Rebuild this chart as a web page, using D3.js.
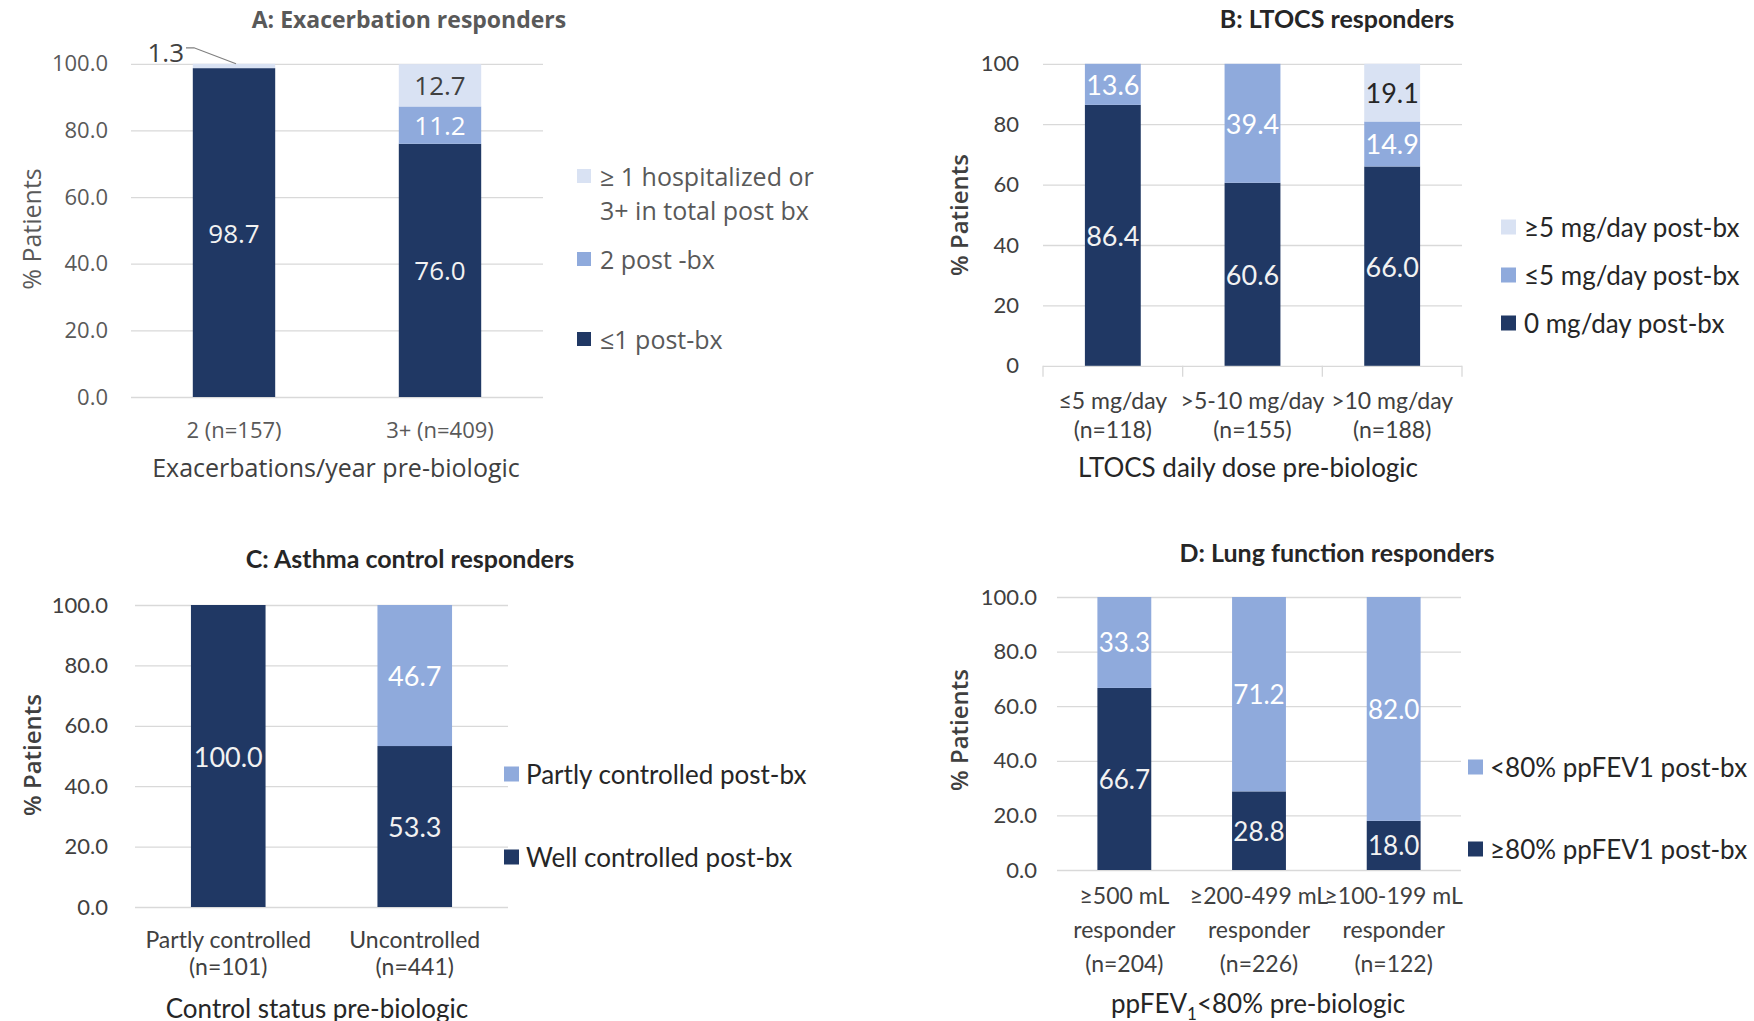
<!DOCTYPE html>
<html>
<head>
<meta charset="utf-8">
<script src="https://cdn.jsdelivr.net/npm/d3@7"></script>
<style>
  html, body { margin: 0; padding: 0; background: #ffffff; }
  svg { display: block; }
</style>
</head>
<body>
<svg id="chart" width="1754" height="1021"></svg>
<script>
// ---- Shared axis ticks ----
const pctTickValues = [0, 20, 40, 60, 80, 100];
const decimalTickLabels = ["0.0", "20.0", "40.0", "60.0", "80.0", "100.0"];
const integerTickLabels = ["0", "20", "40", "60", "80", "100"];

// ---- A: Exacerbation responders ----
const exacCategories = ["2 (n=157)", "3+ (n=409)"];
const exacSeriesNames = ["≤1 post-bx", "2 post -bx", "≥ 1 hospitalized or\n3+ in total post bx"];
const exacLeOne = [98.7, 76.0];
const exacTwo = [0, 11.2];
const exacHosp = [1.3, 12.7];

// ---- B: LTOCS responders ----
const ltocsCategories = ["≤5 mg/day\n(n=118)", ">5-10 mg/day\n(n=155)", ">10 mg/day\n(n=188)"];
const ltocsSeriesNames = ["0 mg/day post-bx", "≤5 mg/day post-bx", "≥5 mg/day post-bx"];
const ltocsZero = [86.4, 60.6, 66.0];
const ltocsLe5 = [13.6, 39.4, 14.9];
const ltocsGe5 = [0, 0, 19.1];

// ---- C: Asthma control responders ----
const controlCategories = ["Partly controlled\n(n=101)", "Uncontrolled\n(n=441)"];
const controlSeriesNames = ["Well controlled post-bx", "Partly controlled post-bx"];
const controlWell = [100.0, 53.3];
const controlPartly = [0, 46.7];

// ---- D: Lung function responders ----
const lungCategories = ["≥500 mL\nresponder\n(n=204)", "≥200-499 mL\nresponder\n(n=226)", "≥100-199 mL\nresponder\n(n=122)"];
const lungSeriesNames = ["≥80% ppFEV1 post-bx", "<80% ppFEV1 post-bx"];
const lungAbove = [66.7, 28.8, 18.0];
const lungBelow = [33.3, 71.2, 82.0];

// ---- Palette ----
const DARK = "#203864", MEDIUM = "#8faadc", LIGHT = "#d9e2f3";
const SEGOE = "'Open Sans', 'Noto Sans', sans-serif";
const CALI = "Lato, 'Open Sans', sans-serif";

const svg = d3.select("#chart");
svg.append("rect").attr("width", 1754).attr("height", 1021).attr("fill", "#ffffff");

function addLines(textSel, str, lineHeight) {
  const lines = str.split("\n");
  textSel.text(null);
  lines.forEach((ln, i) => {
    textSel.append("tspan")
      .attr("x", textSel.attr("x") || 0)
      .attr("dy", i === 0 ? 0 : lineHeight)
      .text(ln);
  });
}

function drawPanel(p) {
  const g = svg.append("g");
  const x = d3.scaleBand().domain(p.categories).range([p.left, p.right])
    .paddingInner(0.6).paddingOuter(0.3);
  const y = d3.scaleLinear().domain([0, 100]).range([p.bottom, p.top]);

  // gridlines and value ticks
  const ya = g.append("g").attr("transform", `translate(${p.left},0)`)
    .call(d3.axisLeft(y).tickValues(pctTickValues)
      .tickFormat((d, i) => p.tickLabels[i])
      .tickSize(-(p.right - p.left)).tickPadding(p.tickPad));
  ya.select(".domain").remove();
  ya.selectAll("line").attr("stroke", "#d9d9d9").attr("stroke-width", 1.3);
  ya.selectAll("text").attr("fill", p.tickColor)
    .style("font-family", p.font).style("font-size", p.tickFont + "px");

  // category boundary ticks
  if (p.boundaryTicks) {
    const bounds = p.categories.map(c => x(c) - x.step() * x.paddingOuter());
    bounds.push(p.right);
    g.selectAll(null).data(bounds).join("line")
      .attr("x1", d => d).attr("x2", d => d)
      .attr("y1", p.bottom).attr("y2", p.bottom + 11)
      .attr("stroke", "#d9d9d9").attr("stroke-width", 1.3);
  }

  // stacked segments
  const rows = p.categories.map((c, i) => {
    const r = { cat: c };
    p.series.forEach((s, k) => { r[k] = s.values[i]; });
    return r;
  });
  const layers = d3.stack().keys(p.series.map((s, k) => k))(rows);

  layers.forEach((layer, k) => {
    const s = p.series[k];
    const segs = layer.filter(d => d[1] - d[0] > 0);
    g.selectAll(null).data(segs).join("rect")
      .attr("x", d => x(d.data.cat)).attr("width", x.bandwidth())
      .attr("y", d => y(d[1])).attr("height", d => y(d[0]) - y(d[1]))
      .attr("fill", s.color);
  });

  layers.forEach((layer, k) => {
    const s = p.series[k];
    layer.forEach((d, i) => {
      const v = d[1] - d[0];
      if (v <= 0) return;
      const cx = x(d.data.cat) + x.bandwidth() / 2;
      if (p.callout && p.callout.series === k && p.callout.category === i) {
        const yt = y(d[1]);
        g.append("polyline")
          .attr("points", [[cx - 48, yt - 16], [cx - 40, yt - 16], [cx + 2, yt]].map(q => q.join(",")).join(" "))
          .attr("fill", "none").attr("stroke", "#7f7f7f").attr("stroke-width", 1.2);
        g.append("text").attr("x", cx - 50).attr("y", yt - 12)
          .attr("text-anchor", "end").attr("dominant-baseline", "central")
          .attr("fill", "#404040").style("font-family", p.font)
          .style("font-size", p.labelFont + "px").text(v.toFixed(1));
        return;
      }
      g.append("text").attr("x", cx).attr("y", y((d[0] + d[1]) / 2))
        .attr("text-anchor", "middle").attr("dominant-baseline", "central")
        .attr("fill", s.labelColor).style("font-family", p.font)
        .style("font-size", p.labelFont + "px").text(v.toFixed(1));
    });
  });

  // category axis
  const xa = g.append("g").attr("transform", `translate(0,${p.bottom})`)
    .call(d3.axisBottom(x).tickSize(0).tickPadding(0));
  xa.select(".domain").remove();
  xa.selectAll("text")
    .attr("y", p.catOffset).attr("dy", null).attr("x", 0)
    .attr("fill", p.catColor)
    .style("font-family", p.font).style("font-size", p.catFont + "px")
    .each(function (d) { addLines(d3.select(this), d, p.catLine); });

  // axis titles
  const xt = g.append("text").attr("x", p.xTitleX).attr("y", p.xTitleY)
    .attr("text-anchor", "middle").attr("fill", p.xTitleColor)
    .style("font-family", p.font).style("font-size", p.xTitleFont + "px");
  p.xTitleParts.forEach(part => {
    const t = xt.append("tspan").text(part.t);
    if (part.sub) t.attr("dy", 7).style("font-size", Math.round(p.xTitleFont * 0.65) + "px");
    if (part.after) t.attr("dy", -7);
  });

  g.append("text")
    .attr("transform", `translate(${p.yTitleX},${p.yTitleY}) rotate(-90)`)
    .attr("text-anchor", "middle").attr("dominant-baseline", "central")
    .attr("fill", p.yTitleColor)
    .style("font-family", SEGOE).style("font-weight", p.yTitleWeight)
    .style("font-size", p.yTitleFont + "px").text("% Patients");

  // panel title
  g.append("text").attr("x", p.titleX).attr("y", p.titleY)
    .attr("text-anchor", "middle").attr("fill", p.titleColor)
    .style("font-family", p.font).style("font-weight", 700)
    .style("font-size", p.titleFont + "px").text(p.title);

  // legend
  p.legend.rows.forEach(r => {
    const s = p.series[r.series];
    g.append("rect")
      .attr("x", p.legend.squareX).attr("y", r.y - p.legend.size / 2)
      .attr("width", p.legend.size).attr("height", p.legend.size)
      .attr("fill", s.color);
    const t = g.append("text").attr("x", p.legend.textX).attr("y", r.y)
      .attr("dominant-baseline", "central").attr("fill", p.legend.color)
      .style("font-family", p.font).style("font-size", p.legend.font + "px");
    addLines(t, s.name, p.legend.lineHeight || 0);
  });
}

// A
drawPanel({
  categories: exacCategories,
  series: [
    { name: exacSeriesNames[0], values: exacLeOne, color: DARK, labelColor: "#f2f2f2" },
    { name: exacSeriesNames[1], values: exacTwo, color: MEDIUM, labelColor: "#ffffff" },
    { name: exacSeriesNames[2], values: exacHosp, color: LIGHT, labelColor: "#404040" }
  ],
  callout: { series: 2, category: 0 },
  left: 131, right: 543, top: 63.8, bottom: 397,
  font: SEGOE, tickLabels: decimalTickLabels, tickFont: 22, tickColor: "#595959", tickPad: 23,
  labelFont: 26,
  catOffset: 41, catLine: 28, catFont: 22, catColor: "#595959",
  xTitleParts: [{ t: "Exacerbations/year pre-biologic" }], xTitleX: 336, xTitleY: 477, xTitleFont: 25, xTitleColor: "#404040",
  yTitleX: 31, yTitleY: 229, yTitleFont: 25, yTitleWeight: 400, yTitleColor: "#595959",
  title: "A: Exacerbation responders", titleX: 409, titleY: 28, titleFont: 23, titleColor: "#595959",
  legend: { squareX: 577, textX: 600, size: 14, font: 25, color: "#595959", lineHeight: 34,
    rows: [{ series: 2, y: 176 }, { series: 1, y: 259 }, { series: 0, y: 339 }] }
});

// B
drawPanel({
  categories: ltocsCategories,
  series: [
    { name: ltocsSeriesNames[0], values: ltocsZero, color: DARK, labelColor: "#f2f2f2" },
    { name: ltocsSeriesNames[1], values: ltocsLe5, color: MEDIUM, labelColor: "#ffffff" },
    { name: ltocsSeriesNames[2], values: ltocsGe5, color: LIGHT, labelColor: "#262626" }
  ],
  boundaryTicks: true,
  left: 1043, right: 1462, top: 63.8, bottom: 365.8,
  font: CALI, tickLabels: integerTickLabels, tickFont: 22, tickColor: "#404040", tickPad: 24,
  labelFont: 27,
  catOffset: 43, catLine: 29, catFont: 23, catColor: "#404040",
  xTitleParts: [{ t: "LTOCS daily dose pre-biologic" }], xTitleX: 1248, xTitleY: 477, xTitleFont: 26, xTitleColor: "#262626",
  yTitleX: 958, yTitleY: 215, yTitleFont: 24, yTitleWeight: 600, yTitleColor: "#404040",
  title: "B: LTOCS responders", titleX: 1337, titleY: 28, titleFont: 25, titleColor: "#262626",
  legend: { squareX: 1501, textX: 1524, size: 15, font: 26, color: "#262626",
    rows: [{ series: 2, y: 227 }, { series: 1, y: 275 }, { series: 0, y: 323 }] }
});

// C
drawPanel({
  categories: controlCategories,
  series: [
    { name: controlSeriesNames[0], values: controlWell, color: DARK, labelColor: "#f2f2f2" },
    { name: controlSeriesNames[1], values: controlPartly, color: MEDIUM, labelColor: "#ffffff" }
  ],
  left: 135, right: 508, top: 605, bottom: 907,
  font: CALI, tickLabels: decimalTickLabels, tickFont: 22, tickColor: "#404040", tickPad: 27,
  labelFont: 27,
  catOffset: 41, catLine: 27, catFont: 23, catColor: "#404040",
  xTitleParts: [{ t: "Control status pre-biologic" }], xTitleX: 317, xTitleY: 1018, xTitleFont: 26, xTitleColor: "#262626",
  yTitleX: 31, yTitleY: 755, yTitleFont: 24, yTitleWeight: 600, yTitleColor: "#404040",
  title: "C: Asthma control responders", titleX: 410, titleY: 568, titleFont: 25, titleColor: "#262626",
  legend: { squareX: 504, textX: 526, size: 15, font: 26, color: "#262626",
    rows: [{ series: 1, y: 774 }, { series: 0, y: 857 }] }
});

// D
drawPanel({
  categories: lungCategories,
  series: [
    { name: lungSeriesNames[0], values: lungAbove, color: DARK, labelColor: "#f2f2f2" },
    { name: lungSeriesNames[1], values: lungBelow, color: MEDIUM, labelColor: "#ffffff" }
  ],
  left: 1057, right: 1461, top: 597, bottom: 870,
  font: CALI, tickLabels: decimalTickLabels, tickFont: 22, tickColor: "#404040", tickPad: 20,
  labelFont: 26,
  catOffset: 34, catLine: 34, catFont: 23, catColor: "#404040",
  xTitleParts: [{ t: "ppFEV" }, { t: "1", sub: true }, { t: "<80% pre-biologic", after: true }],
  xTitleX: 1258, xTitleY: 1013, xTitleFont: 26, xTitleColor: "#262626",
  yTitleX: 958, yTitleY: 730, yTitleFont: 24, yTitleWeight: 600, yTitleColor: "#404040",
  title: "D: Lung function responders", titleX: 1337, titleY: 562, titleFont: 25, titleColor: "#262626",
  legend: { squareX: 1468, textX: 1490, size: 15, font: 26, color: "#262626",
    rows: [{ series: 1, y: 767 }, { series: 0, y: 849 }] }
});
</script>
</body>
</html>
